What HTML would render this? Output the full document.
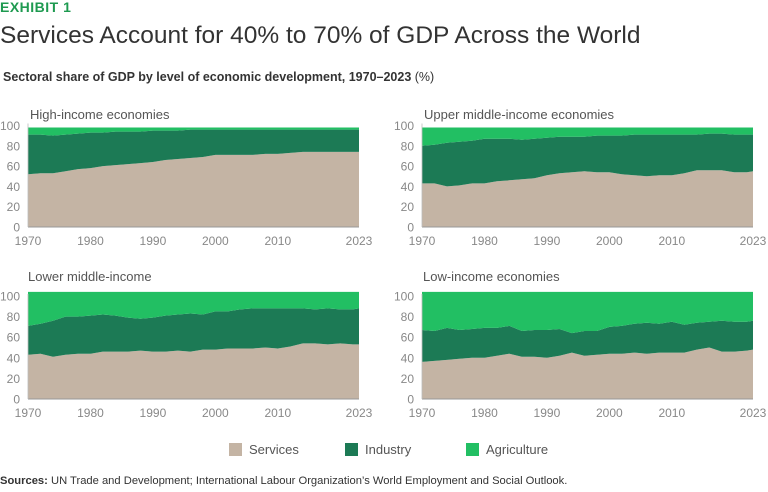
<!DOCTYPE html>
<html><head><meta charset="utf-8">
<style>
body{margin:0;width:768px;height:492px;background:#fff;font-family:"Liberation Sans",sans-serif;overflow:hidden;position:relative}
.t{position:absolute;white-space:nowrap}
</style></head><body>
<div class="t" style="left:0;top:-1px;font-size:14px;font-weight:bold;color:#1e9a50;letter-spacing:0.5px">EXHIBIT 1</div>
<div class="t" style="left:0;top:22px;font-size:24.5px;color:#333">Services Account for 40% to 70% of GDP Across the World</div>
<div class="t" style="left:3px;top:70px;font-size:12.5px;font-weight:bold;color:#333">Sectoral share of GDP by level of economic development, 1970–2023 <span style="font-weight:normal">(%)</span></div>
<svg id="chart" width="768" height="492" style="position:absolute;left:0;top:0"></svg>
<div class="t" style="left:0;top:475px;font-size:11.2px;color:#333"><b>Sources:</b> UN Trade and Development; International Labour Organization’s World Employment and Social Outlook.</div>
<script>
const years=[1970,1972,1974,1976,1978,1980,1982,1984,1986,1988,1990,1992,1994,1996,1998,2000,2002,2004,2006,2008,2010,2012,2014,2016,2018,2020,2022,2023];
const xTicks=[1970,1980,1990,2000,2010,2023];
const yTicks=[0,20,40,60,80,100];
const panelTitles=["High-income economies","Upper middle-income economies","Lower middle-income","Low-income economies"];
const seriesNames=["Services","Industry","Agriculture"];
// High income
const highServices=[52,53,53,55,57,58,60,61,62,63,64,66,67,68,69,71,71,71,71,72,72,73,74,74,74,74,74,74];
const highIndustry=[39,38,37,36,35,35,33,33,32,31,31,29,28,28,27,25,25,25,25,24,24,23,22,22,22,22,22,22];
const highAgriculture=[7,7,8,7,6,5,5,4,4,4,3,3,3,2,2,2,2,2,2,2,2,2,2,2,2,2,2,2];
// Upper middle income
const upperServices=[43,43,40,41,43,43,45,46,47,48,51,53,54,55,54,54,52,51,50,51,51,53,56,56,56,54,54,55];
const upperIndustry=[37,38,43,43,42,44,42,41,39,39,37,36,35,34,36,36,38,40,41,40,40,38,35,36,36,37,37,36];
const upperAgriculture=[18,17,15,14,13,11,11,11,12,11,10,9,9,9,8,8,8,7,7,7,7,7,7,6,6,7,7,7];
// Lower middle income
const lowerServices=[43,44,41,43,44,44,46,46,46,47,46,46,47,46,48,48,49,49,49,50,49,51,54,54,53,54,53,53];
const lowerIndustry=[28,29,35,37,36,37,36,35,33,31,33,35,35,37,34,37,36,38,39,38,39,37,34,33,35,33,34,35];
const lowerAgriculture=[33,31,28,24,24,23,22,23,25,26,25,23,22,21,22,19,19,17,16,16,16,16,16,17,16,17,17,16];
// Low income
const lowServices=[36,37,38,39,40,40,42,44,41,41,40,42,45,42,43,44,44,45,44,45,45,45,48,50,46,46,47,48];
const lowIndustry=[31,29,31,28,28,29,27,27,25,26,27,26,19,24,23,26,27,28,30,28,30,27,26,25,30,29,28,28];
const lowAgriculture=[37,38,35,37,36,35,35,33,38,37,37,36,40,38,38,34,33,31,30,31,29,32,30,29,28,29,29,28];

const panels=[
 {s:highServices,i:highIndustry,a:highAgriculture,x0:28,x1:359,yb:227,y100:125.5,tx:30,ty:115,lx:20},
 {s:upperServices,i:upperIndustry,a:upperAgriculture,x0:422,x1:753,yb:227,y100:125.5,tx:424,ty:115,lx:414},
 {s:lowerServices,i:lowerIndustry,a:lowerAgriculture,x0:28,x1:359,yb:399,y100:296,tx:28,ty:277,lx:20},
 {s:lowServices,i:lowIndustry,a:lowAgriculture,x0:422,x1:753,yb:399,y100:296,tx:423,ty:277,lx:414}
];
const colors=["#c4b4a4","#1c7a55","#22bf63"];
const NS="http://www.w3.org/2000/svg";
const svg=document.getElementById('chart');
function mk(tag,attrs,parent){const e=document.createElementNS(NS,tag);for(const k in attrs)e.setAttribute(k,attrs[k]);(parent||svg).appendChild(e);return e;}
panels.forEach((p,pi)=>{
  const g=mk('g',{});
  
  
  const xs=y=>p.x0+(y-1970)/(2023-1970)*(p.x1-p.x0);
  const ys=v=>p.yb-v/100*(p.yb-p.y100);
  const layers=[p.s,p.i,p.a];
  let lower=years.map(()=>0);
  layers.forEach((arr,li)=>{
    const upper=lower.map((v,k)=>v+arr[k]);
    let d='M'+years.map((y,k)=>xs(y).toFixed(1)+','+ys(upper[k]).toFixed(1)).join('L');
    for(let k=years.length-1;k>=0;k--)d+='L'+xs(years[k]).toFixed(1)+','+ys(lower[k]).toFixed(1);
    const path=mk('path',{d:d+'Z',fill:colors[li]},g);
    
    
    lower=upper;
  });
  const ax=mk('line',{x1:p.x0,x2:p.x1,y1:p.yb,y2:p.yb,stroke:'#999','stroke-width':1},g);
  
  
  const ay=mk('line',{x1:p.x0,x2:p.x0,y1:p.yb,y2:p.y100-2,stroke:'#bbb','stroke-width':0.8},g);
  
  
  yTicks.forEach(v=>{
    const t=mk('text',{x:p.lx,y:ys(v)+4.5,'text-anchor':'end','font-size':12,fill:'#888'},g);
    t.textContent=v;
    
    
  });
  xTicks.forEach(y=>{
    const t=mk('text',{x:xs(y),y:p.yb+18,'text-anchor':'middle','font-size':12,fill:'#888'},g);
    t.textContent=y;
    
    
  });
  const ti=mk('text',{x:p.tx,y:p.ty+4,'font-size':13,fill:'#555'},g);
  ti.textContent=panelTitles[pi];
  
  
});
const legendX=[229,345,466];
seriesNames.forEach((n,i)=>{
  const g=mk('g',{});
  
  
  mk('rect',{x:legendX[i],y:443,width:13,height:13,fill:colors[i]},g);
  const t=mk('text',{x:legendX[i]+20,y:454,'font-size':13,fill:'#555'},g);
  t.textContent=n;
});
</script>
</body></html>
